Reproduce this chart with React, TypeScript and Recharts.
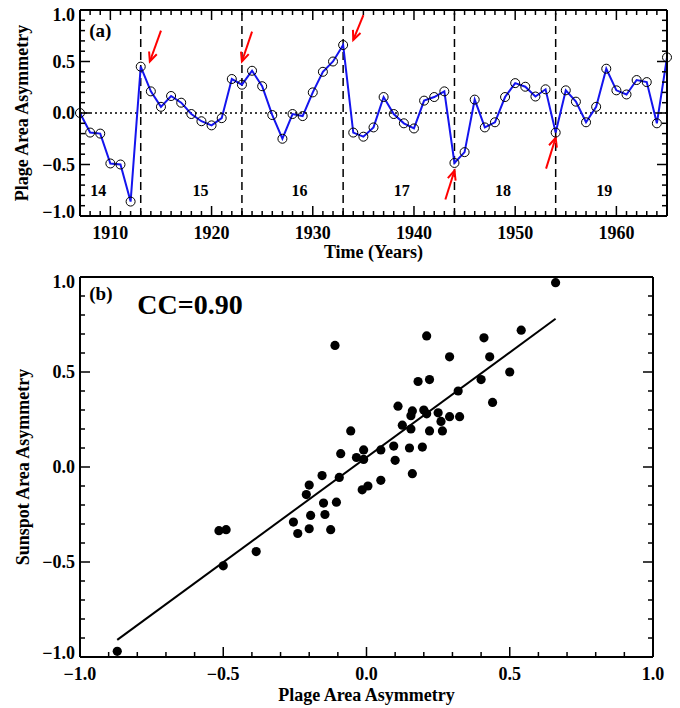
import React from 'react';
import {
  LineChart,
  Line,
  XAxis,
  YAxis,
  ReferenceLine,
  ReferenceDot,
  ScatterChart,
  Scatter,
} from 'recharts';

// ---------- Panel (a) data ----------
const years = [
  1907, 1908, 1909, 1910, 1911, 1912, 1913, 1914, 1915, 1916,
  1917, 1918, 1919, 1920, 1921, 1922, 1923, 1924, 1925, 1926,
  1927, 1928, 1929, 1930, 1931, 1932, 1933, 1934, 1935, 1936,
  1937, 1938, 1939, 1940, 1941, 1942, 1943, 1944, 1945, 1946,
  1947, 1948, 1949, 1950, 1951, 1952, 1953, 1954, 1955, 1956,
  1957, 1958, 1959, 1960, 1961, 1962, 1963, 1964, 1965,
];
const plageAsymmetry = [
  0.0, -0.19, -0.2, -0.49, -0.5, -0.86, 0.45, 0.21, 0.06, 0.165,
  0.1, -0.01, -0.08, -0.12, -0.05, 0.33, 0.275, 0.41, 0.26, -0.02,
  -0.25, -0.01, -0.03, 0.2, 0.4, 0.5, 0.66, -0.19, -0.23, -0.14,
  0.155, -0.01, -0.1, -0.15, 0.12, 0.155, 0.21, -0.485, -0.38, 0.13,
  -0.14, -0.09, 0.155, 0.29, 0.255, 0.16, 0.23, -0.19, 0.22, 0.11,
  -0.09, 0.06, 0.43, 0.22, 0.18, 0.32, 0.3, -0.1, 0.54,
];
const cycleBoundaries = [1913, 1923, 1933, 1944, 1954];
const cycleNumbers = ['14', '15', '16', '17', '18', '19'];
const cycleLabelYears = [1908.8, 1918.9, 1928.7, 1938.8, 1948.8, 1958.8];
const cycleLabelLevel = -0.75;
const arrowTailYears = [1915.0, 1924.0, 1935.0, 1943.1, 1953.05];
const arrowTailValues = [0.8, 0.79, 0.95, -0.84, -0.54];
const arrowHeadYears = [1913.9, 1923.0, 1934.0, 1944.0, 1954.0];
const arrowHeadValues = [0.5, 0.5, 0.71, -0.56, -0.24];
const yearTicks = years;
const yearMajorTicks = [1910, 1920, 1930, 1940, 1950, 1960];
const panelALabel = { x: 1909.0, y: 0.8, text: '(a)' };

// ---------- Panel (b) data ----------
const scatterPlage = [
  0.66, 0.54, 0.41, 0.21, 0.43, 0.29, 0.5, 0.4, 0.18, 0.22,
  0.32, 0.44, 0.11, 0.2, 0.16, 0.155, 0.21, 0.25, 0.26, 0.29,
  0.325, 0.125, 0.155, 0.22, 0.265, -0.055, -0.09, -0.01, -0.035, -0.01,
  0.05, 0.095, 0.15, 0.195, 0.1, 0.16, 0.05, 0.005, -0.015, -0.11,
  -0.095, -0.155, -0.2, -0.21, -0.15, -0.105, -0.195, -0.145, -0.255, -0.24,
  -0.2, -0.125, -0.385, -0.515, -0.49, -0.5, -0.87,
];
const scatterSunspot = [
  0.97, 0.72, 0.68, 0.69, 0.58, 0.58, 0.5, 0.46, 0.45, 0.46,
  0.4, 0.34, 0.32, 0.3, 0.295, 0.27, 0.28, 0.285, 0.24, 0.265,
  0.265, 0.22, 0.2, 0.19, 0.19, 0.19, 0.07, 0.09, 0.05, 0.04,
  0.09, 0.11, 0.1, 0.105, 0.035, -0.035, -0.07, -0.1, -0.12, 0.64,
  -0.055, -0.045, -0.095, -0.145, -0.19, -0.185, -0.255, -0.25, -0.29, -0.35,
  -0.325, -0.33, -0.445, -0.335, -0.33, -0.52, -0.97,
];
const fitX = [-0.87, 0.66];
const fitY = [-0.91, 0.78];
const asymTicks = [
  -1.0, -0.9, -0.8, -0.7, -0.6, -0.5, -0.4, -0.3, -0.2, -0.1, 0.0,
  0.1, 0.2, 0.3, 0.4, 0.5, 0.6, 0.7, 0.8, 0.9, 1.0,
];
const asymMajorTicks = [-1.0, -0.5, 0.0, 0.5, 1.0];
const panelBLabel = { x: -0.927, y: 0.914, text: '(b)' };
const ccLabel = { x: -0.616, y: 0.856, text: 'CC=0.90' };

// ---------- helpers ----------
const FONT = "'Liberation Serif', 'Times New Roman', serif";

const lineData = years.map((year, i) => ({ year, v: plageAsymmetry[i] }));
const scatterData = scatterPlage.map((x, i) => ({ x, y: scatterSunspot[i] }));

const fmtAsym = (v: number) => (v < 0 ? '\u2212' + Math.abs(v).toFixed(1) : v.toFixed(1));
const fmtYear = (v: number) => String(v);

const makeTick =
  (
    orient: 'bottom' | 'top' | 'left' | 'right',
    majors: number[],
    labels: boolean,
    fmt: (v: number) => string,
    min: number,
    max: number
  ) =>
  (props: any) => {
    const { x, y, payload } = props;
    const v = payload.value as number;
    const major = majors.some((m) => Math.abs(m - v) < 1e-6);
    const len = major ? 10 : 5;
    let x2 = x;
    let y2 = y;
    if (orient === 'bottom') y2 = y - len;
    if (orient === 'top') y2 = y + len;
    if (orient === 'left') x2 = x + len;
    if (orient === 'right') x2 = x - len;
    let label: any = null;
    if (labels && major) {
      if (orient === 'bottom') {
        label = (
          <text x={x} y={y + 23} textAnchor="middle" fontSize={18} fontWeight="bold" fontFamily={FONT} fill="#000">
            {fmt(v)}
          </text>
        );
      } else if (orient === 'left') {
        let shift = 0;
        if (Math.abs(v - max) < 1e-6) shift = 5;
        if (Math.abs(v - min) < 1e-6) shift = -4;
        label = (
          <text x={x - 5} y={y + 6 + shift} textAnchor="end" fontSize={18} fontWeight="bold" fontFamily={FONT} fill="#000">
            {fmt(v)}
          </text>
        );
      }
    }
    return (
      <g>
        <line x1={x} y1={y} x2={x2} y2={y2} stroke="#000" strokeWidth={1.5} />
        {label}
      </g>
    );
  };

const ArrowShape = (p: any) => {
  const { x1, y1, x2, y2 } = p;
  if (![x1, y1, x2, y2].every((n) => typeof n === 'number' && isFinite(n))) return null;
  const ang = Math.atan2(y2 - y1, x2 - x1);
  const h = 10;
  const s = 0.42;
  const ax = x2 - h * Math.cos(ang - s);
  const ay = y2 - h * Math.sin(ang - s);
  const bx = x2 - h * Math.cos(ang + s);
  const by = y2 - h * Math.sin(ang + s);
  return (
    <g>
      <line x1={x1} y1={y1} x2={x2} y2={y2} stroke="#ff0000" strokeWidth={2} />
      <polyline points={`${ax},${ay} ${x2},${y2} ${bx},${by}`} fill="none" stroke="#ff0000" strokeWidth={2} />
    </g>
  );
};

const textContent =
  (text: string, size: number) =>
  (p: any) => {
    const vb = p.viewBox || {};
    const cx = (vb.x ?? 0) + (vb.width ?? 0) / 2;
    const cy = (vb.y ?? 0) + (vb.height ?? 0) / 2;
    return (
      <text x={cx} y={cy} dy="0.35em" textAnchor="middle" fontSize={size} fontWeight="bold" fontFamily={FONT} fill="#000">
        {text}
      </text>
    );
  };

const xTitle =
  (text: string, offset: number) =>
  (p: any) => {
    const vb = p.viewBox || {};
    return (
      <text x={vb.x + vb.width / 2} y={vb.y + offset} textAnchor="middle" fontSize={18} fontWeight="bold" fontFamily={FONT} fill="#000">
        {text}
      </text>
    );
  };

const yTitle =
  (text: string, offset: number) =>
  (p: any) => {
    const vb = p.viewBox || {};
    const cx = vb.x + vb.width - offset;
    const cy = vb.y + vb.height / 2;
    return (
      <text
        x={cx}
        y={cy}
        dy="0.35em"
        textAnchor="middle"
        fontSize={18}
        fontWeight="bold"
        fontFamily={FONT}
        fill="#000"
        transform={`rotate(-90, ${cx}, ${cy})`}
      >
        {text}
      </text>
    );
  };

const axisLineStyle = { stroke: '#000', strokeWidth: 2 };

export default function App() {
  return (
    <div
      style={{
        position: 'absolute',
        left: 0,
        top: 0,
        width: 680,
        height: 708,
        background: '#fff',
        fontFamily: FONT,
      }}
    >
      <div style={{ position: 'absolute', left: 0, top: 0 }}>
        <LineChart width={680} height={262} data={lineData} margin={{ top: 9, right: 12, bottom: 45, left: 79 }}>
          <XAxis
            xAxisId={0}
            dataKey="year"
            type="number"
            domain={[1907, 1965]}
            ticks={yearTicks}
            interval={0}
            height={1}
            tickSize={0}
            tickMargin={0}
            tickLine={false}
            axisLine={axisLineStyle}
            tick={makeTick('bottom', yearMajorTicks, true, fmtYear, 1907, 1965)}
            label={{ content: xTitle('Time (Years)', 42) }}
          />
          <XAxis
            xAxisId="top"
            orientation="top"
            dataKey="year"
            type="number"
            domain={[1907, 1965]}
            allowDataOverflow
            ticks={yearTicks}
            interval={0}
            height={1}
            tickSize={0}
            tickMargin={0}
            tickLine={false}
            axisLine={axisLineStyle}
            tick={makeTick('top', yearMajorTicks, false, fmtYear, 1907, 1965)}
          />
          <YAxis
            yAxisId={0}
            type="number"
            domain={[-1, 1]}
            ticks={asymTicks}
            interval={0}
            width={1}
            tickSize={0}
            tickMargin={0}
            tickLine={false}
            axisLine={axisLineStyle}
            tick={makeTick('left', asymMajorTicks, true, fmtAsym, -1, 1)}
            label={{ content: yTitle('Plage Area Asymmetry', 58) }}
          />
          <YAxis
            yAxisId="right"
            orientation="right"
            type="number"
            domain={[-1, 1]}
            allowDataOverflow
            ticks={asymTicks}
            interval={0}
            width={1}
            tickSize={0}
            tickMargin={0}
            tickLine={false}
            axisLine={axisLineStyle}
            tick={makeTick('right', asymMajorTicks, false, fmtAsym, -1, 1)}
          />
          <ReferenceLine y={0} stroke="#000" strokeWidth={1.5} strokeDasharray="2 3" />
          {cycleBoundaries.map((b) => (
            <ReferenceLine key={'cb' + b} x={b} stroke="#000" strokeWidth={1.5} strokeDasharray="8 5" />
          ))}
          <Line
            dataKey="v"
            type="linear"
            stroke="#1414ee"
            strokeWidth={2}
            dot={{ r: 4.5, stroke: '#000', strokeWidth: 1, fill: 'none' }}
            isAnimationActive={false}
          />
          {arrowTailYears.map((ty, i) => (
            <ReferenceLine
              key={'ar' + i}
              segment={[
                { x: ty, y: arrowTailValues[i] },
                { x: arrowHeadYears[i], y: arrowHeadValues[i] },
              ]}
              shape={ArrowShape}
            />
          ))}
          {cycleNumbers.map((c, i) => (
            <ReferenceDot
              key={'cn' + c}
              x={cycleLabelYears[i]}
              y={cycleLabelLevel}
              r={0}
              stroke="none"
              fill="none"
              label={{ content: textContent(c, 16) }}
            />
          ))}
          <ReferenceDot
            x={panelALabel.x}
            y={panelALabel.y}
            r={0}
            stroke="none"
            fill="none"
            label={{ content: textContent(panelALabel.text, 19) }}
          />
        </LineChart>
      </div>
      <div style={{ position: 'absolute', left: 0, top: 262 }}>
        <ScatterChart width={680} height={446} margin={{ top: 14, right: 26, bottom: 50, left: 79 }}>
          <XAxis
            xAxisId={0}
            dataKey="x"
            type="number"
            domain={[-1, 1]}
            ticks={asymTicks}
            interval={0}
            height={1}
            tickSize={0}
            tickMargin={0}
            tickLine={false}
            axisLine={axisLineStyle}
            tick={makeTick('bottom', asymMajorTicks, true, fmtAsym, -1, 1)}
            label={{ content: xTitle('Plage Area Asymmetry', 44) }}
          />
          <XAxis
            xAxisId="top"
            orientation="top"
            type="number"
            domain={[-1, 1]}
            allowDataOverflow
            ticks={asymTicks}
            interval={0}
            height={1}
            tickSize={0}
            tickMargin={0}
            tickLine={false}
            axisLine={axisLineStyle}
            tick={makeTick('top', asymMajorTicks, false, fmtAsym, -1, 1)}
          />
          <YAxis
            yAxisId={0}
            dataKey="y"
            type="number"
            domain={[-1, 1]}
            ticks={asymTicks}
            interval={0}
            width={1}
            tickSize={0}
            tickMargin={0}
            tickLine={false}
            axisLine={axisLineStyle}
            tick={makeTick('left', asymMajorTicks, true, fmtAsym, -1, 1)}
            label={{ content: yTitle('Sunspot Area Asymmetry', 57) }}
          />
          <YAxis
            yAxisId="right"
            orientation="right"
            type="number"
            domain={[-1, 1]}
            allowDataOverflow
            ticks={asymTicks}
            interval={0}
            width={1}
            tickSize={0}
            tickMargin={0}
            tickLine={false}
            axisLine={axisLineStyle}
            tick={makeTick('right', asymMajorTicks, false, fmtAsym, -1, 1)}
          />
          <ReferenceLine
            segment={[
              { x: fitX[0], y: fitY[0] },
              { x: fitX[1], y: fitY[1] },
            ]}
            stroke="#000"
            strokeWidth={2}
          />
          <Scatter
            data={scatterData}
            isAnimationActive={false}
            shape={(p: any) => <circle cx={p.cx} cy={p.cy} r={4.6} fill="#000" />}
          />
          <ReferenceDot
            x={panelBLabel.x}
            y={panelBLabel.y}
            r={0}
            stroke="none"
            fill="none"
            label={{ content: textContent(panelBLabel.text, 19) }}
          />
          <ReferenceDot
            x={ccLabel.x}
            y={ccLabel.y}
            r={0}
            stroke="none"
            fill="none"
            label={{ content: textContent(ccLabel.text, 28) }}
          />
        </ScatterChart>
      </div>
    </div>
  );
}
